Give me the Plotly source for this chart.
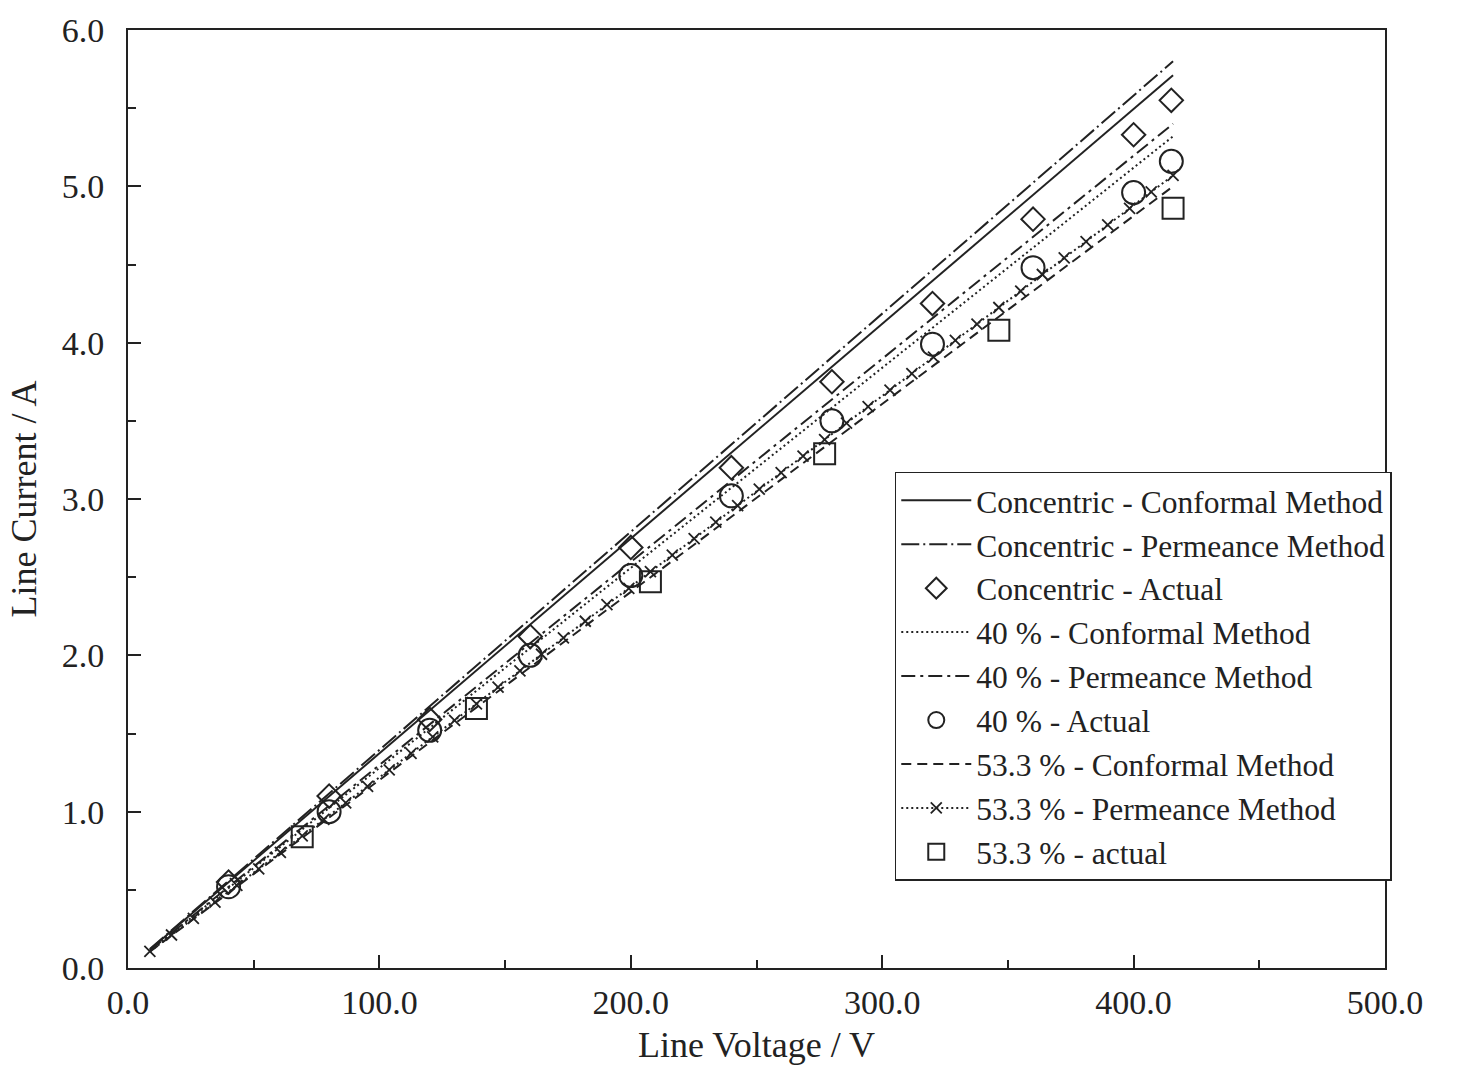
import plotly.graph_objects as go

# Model sample voltages (line voltage = sqrt(3) x phase voltage steps)
model_v = [8.7, 17.3, 26.0, 34.6, 43.3, 52.0, 60.6, 69.3, 77.9, 86.6, 95.3, 103.9,
           112.6, 121.2, 129.9, 138.6, 147.2, 155.9, 164.5, 173.2, 181.9, 190.5, 199.2, 207.8,
           216.5, 225.2, 233.8, 242.5, 251.1, 259.8, 268.5, 277.1, 285.8, 294.4, 303.1, 311.8,
           320.4, 329.1, 337.7, 346.4, 355.1, 363.7, 372.4, 381.1, 389.7, 398.4, 407.0, 415.7]
line_ends_v = [8.7, 415.7]

conc_conformal = [0.119, 5.71]
conc_permeance = [0.121, 5.80]
p40_conformal = [0.111, 5.32]
p40_permeance = [0.112, 5.40]
p53_conformal = [0.104, 5.00]
p53_permeance = [0.106, 0.211, 0.317, 0.422, 0.528, 0.634, 0.739, 0.845, 0.951, 1.056,
                 1.162, 1.267, 1.373, 1.479, 1.584, 1.690, 1.796, 1.901, 2.007, 2.112,
                 2.218, 2.324, 2.429, 2.535, 2.641, 2.746, 2.852, 2.957, 3.063, 3.169,
                 3.274, 3.380, 3.485, 3.591, 3.697, 3.802, 3.908, 4.014, 4.119, 4.225,
                 4.330, 4.436, 4.542, 4.647, 4.753, 4.859, 4.964, 5.070]

conc_actual_v = [40, 80, 120, 160, 200, 240, 280, 320, 360, 400, 415]
conc_actual_i = [0.55, 1.10, 1.59, 2.12, 2.69, 3.20, 3.75, 4.25, 4.79, 5.33, 5.55]
p40_actual_v = [40, 80, 120, 160, 200, 240, 280, 320, 360, 400, 415]
p40_actual_i = [0.52, 1.00, 1.52, 2.00, 2.51, 3.02, 3.50, 3.99, 4.48, 4.96, 5.16]
p53_actual_v = [69.3, 138.6, 207.8, 277.1, 346.4, 415.7]
p53_actual_i = [0.84, 1.66, 2.47, 3.29, 4.08, 4.86]

names = ["Concentric - Conformal Method", "Concentric - Permeance Method", "Concentric - Actual",
         "40 % - Conformal Method", "40 % - Permeance Method", "40 % - Actual",
         "53.3 % - Conformal Method", "53.3 % - Permeance Method", "53.3 % - actual"]

K = "#222222"
FONT = "Liberation Serif"

fig = go.Figure()
fig.add_trace(go.Scatter(x=line_ends_v, y=conc_conformal, mode="lines", name=names[0],
                         line=dict(color=K, width=2, dash="solid")))
fig.add_trace(go.Scatter(x=line_ends_v, y=conc_permeance, mode="lines", name=names[1],
                         line=dict(color=K, width=2, dash="18px,4px,2px,4px")))
fig.add_trace(go.Scatter(x=conc_actual_v, y=conc_actual_i, mode="markers", name=names[2],
                         marker=dict(symbol="diamond-open", size=18, color=K, line=dict(width=2, color=K))))
fig.add_trace(go.Scatter(x=line_ends_v, y=p40_conformal, mode="lines", name=names[3],
                         line=dict(color=K, width=2, dash="2px,3px")))
fig.add_trace(go.Scatter(x=line_ends_v, y=p40_permeance, mode="lines", name=names[4],
                         line=dict(color=K, width=2, dash="14px,5px,3px,5px")))
fig.add_trace(go.Scatter(x=p40_actual_v, y=p40_actual_i, mode="markers", name=names[5],
                         marker=dict(symbol="circle-open", size=23, color=K, line=dict(width=2, color=K))))
fig.add_trace(go.Scatter(x=line_ends_v, y=p53_conformal, mode="lines", name=names[6],
                         line=dict(color=K, width=2, dash="10px,6px")))
fig.add_trace(go.Scatter(x=model_v, y=p53_permeance, mode="lines+markers", name=names[7],
                         line=dict(color=K, width=2, dash="2px,3px"),
                         marker=dict(symbol="x-thin-open", size=11, color=K, line=dict(width=1.8, color=K))))
fig.add_trace(go.Scatter(x=p53_actual_v, y=p53_actual_i, mode="markers", name=names[8],
                         marker=dict(symbol="square-open", size=21, color=K, line=dict(width=2, color=K))))

fig.update_layout(
    width=1483, height=1070,
    margin=dict(l=128, r=98, t=25, b=100),
    paper_bgcolor="white", plot_bgcolor="white",
    font=dict(family=FONT, size=34, color=K),
    showlegend=True,
    legend=dict(x=0.610, y=0.529, xanchor="left", yanchor="top",
                bgcolor="white", bordercolor=K, borderwidth=1.5,
                font=dict(family=FONT, size=31.5, color=K),
                itemwidth=70, tracegroupgap=0, entrywidth=505, entrywidthmode="pixels"),
)
fig.update_xaxes(range=[0, 500], tickvals=[0, 100, 200, 300, 400, 500], tickformat=".1f",
                 ticks="inside", ticklen=13, tickwidth=1.5, tickcolor=K,
                 tickfont=dict(family=FONT, size=34),
                 minor=dict(tickvals=[50, 150, 250, 350, 450], ticks="inside", ticklen=8, tickwidth=1.5, tickcolor=K),
                 showline=True, linecolor=K, linewidth=2, mirror=True, showgrid=False, zeroline=False,
                 ticklabelstandoff=3,
                 title=dict(text="Line Voltage / V", font=dict(family=FONT, size=36), standoff=12))
fig.update_yaxes(range=[0, 6], tickvals=[0, 1, 2, 3, 4, 5, 6], tickformat=".1f",
                 ticks="inside", ticklen=13, tickwidth=1.5, tickcolor=K,
                 tickfont=dict(family=FONT, size=34),
                 minor=dict(tickvals=[0.5, 1.5, 2.5, 3.5, 4.5, 5.5], ticks="inside", ticklen=8, tickwidth=1.5, tickcolor=K),
                 showline=True, linecolor=K, linewidth=2, mirror=True, showgrid=False, zeroline=False,
                 ticklabelstandoff=15,
                 title=dict(text="Line Current / A", font=dict(family=FONT, size=36), standoff=14))

fig.write_html("out.html")
